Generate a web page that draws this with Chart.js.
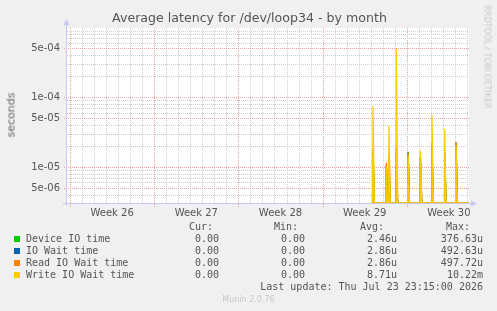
<!DOCTYPE html>
<html>
<head>
<meta charset="utf-8">
<script src="https://cdn.jsdelivr.net/npm/chart.js@4"></script>
<style>
  body { margin:0; background:#f0f0f0; }
  #wrap { position:relative; width:497px; height:311px; font-family:"DejaVu Sans", sans-serif; color:#555; }
  #chart { position:absolute; left:0; top:0; }
  .t { position:absolute; white-space:pre; }
  .mono { font-family:"DejaVu Sans Mono", monospace; font-size:10px; color:#555; }
  .sq { position:absolute; width:6px; height:6px; }
</style>
</head>
<body>
<div id="wrap">
  <canvas id="chart" width="497" height="311"></canvas>
  <div class="t" style="left:0;width:497px;top:10px;text-align:center;font-size:12.6px;padding-left:1px;">Average latency for /dev/loop34 - by month</div>
  <div class="t" style="left:11px;top:115px;font-size:11px;color:#666;transform:translate(-50%,-50%) rotate(-90deg);">seconds</div>
  <div class="t" style="left:487px;top:57px;font-size:8px;color:#c8c8c8;transform:translate(-50%,-50%) rotate(90deg);">RRDTOOL / TOBI OETIKER</div>
  <div id="legend"></div>
  <div class="t" style="left:0;width:497px;top:295px;text-align:center;font-size:8px;color:#c8c8c8;">Munin 2.0.76</div>
</div>
<script>
// x in days since Mon Jun 22 2026 (Week 26 start)
const weekLabels = ['Week 26','Week 27','Week 28','Week 29','Week 30'];
const yTickValues = [5e-4, 1e-4, 5e-5, 1e-5, 5e-6];
const yTickLabels = ['5e-04','1e-04','5e-05','1e-05','5e-06'];
const yMin = 3.05e-6, yMax = 9.8e-4;

const times = [25.10, 25.16, 25.19, 25.30,
               26.27, 26.30, 26.38, 26.49, 26.52, 26.62,
               27.10, 27.13, 27.24, 28.08, 28.11, 28.22,
               29.10, 29.13, 29.24, 30.06, 30.09, 30.20,
               31.12, 31.15, 31.26, 32.06, 32.09, 32.20, 33.17];
const deviceIO = [0,0,1.5e-5,0, 0,1.0e-5,0, 0,1.2e-5,0, 0,1.6e-5,0, 0,1.65e-5,0, 0,1.2e-5,0, 0,1.9e-5,0, 0,1.4e-5,0, 0,2.0e-5,0, 0];
const ioWait   = [0,0,1.8e-5,0, 0,1.1e-5,0, 0,1.45e-5,0, 0,1.9e-5,0, 0,1.6e-5,0, 0,1.38e-5,0, 0,2.2e-5,0, 0,1.6e-5,0, 0,2.25e-5,0, 0];
const readWait = [0,0,1.86e-5,0, 0,1.15e-5,0, 0,1.5e-5,0, 0,2.0e-5,0, 0,1.57e-5,0, 0,1.41e-5,0, 0,2.26e-5,0, 0,1.62e-5,0, 0,2.3e-5,0, 0];
const writeWait= [0,0,7.4e-5,0, 0,1.0e-5,0, 0,3.9e-5,0, 0,4.9e-4,0, 0,1.5e-5,0, 0,1.72e-5,0, 0,5.6e-5,0, 0,3.5e-5,0, 0,2.03e-5,0, 0];

const seriesNames = ['Device IO time','IO Wait time','Read IO Wait time','Write IO Wait time'];
const seriesColors = ['#00cc00','#0066b3','#ff8000','#ffcc00'];
const curVals = ['0.00','0.00','0.00','0.00'];
const minVals = ['0.00','0.00','0.00','0.00'];
const avgVals = ['2.46u','2.86u','2.86u','8.71u'];
const maxVals = ['376.63u','492.63u','497.72u','10.22m'];

// zero can't sit on a log axis: rrdtool draws it on the bottom edge, so clamp to the axis min
function pts(arr){ return times.map((t,i)=>({x:t, y:Math.max(arr[i], yMin)})); }

// legend table
const lg = document.getElementById('legend');
let html = '';
function cell(txt, right, top){ return '<div class="t mono" style="right:'+(497-right)+'px;top:'+top+'px;">'+txt+'</div>'; }
html += cell('Cur:',213,221) + cell('Min:',298,221) + cell('Avg:',384,221) + cell('Max:',470,221);
seriesNames.forEach((n,i)=>{
  const top = 233 + i*12;
  html += '<div class="sq" style="left:14px;top:'+(top+3)+'px;background:'+seriesColors[i]+'"></div>';
  html += '<div class="t mono" style="left:26px;top:'+top+'px;">'+n+'</div>';
  html += cell(curVals[i],219,top) + cell(minVals[i],305,top) + cell(avgVals[i],397,top) + cell(maxVals[i],483,top);
});
html += cell('Last update: Thu Jul 23 23:15:00 2026',483,281);
lg.innerHTML = html;

// dotted lines drawn pixel by pixel, like rrdtool does
function hdots(ctx, y, x0, x1){ for (let x=x0; x<=x1; x+=2) ctx.fillRect(x, y, 1, 1); }
function vdots(ctx, x, y0, y1){ for (let y=y0; y<=y1; y+=2) ctx.fillRect(x, y, 1, 1); }

const gridPlugin = {
  id:'rrdgrid',
  beforeDraw(chart){
    const {ctx, chartArea:a, scales:{x,y}} = chart;
    const L = Math.round(a.left), R = Math.round(a.right), T = Math.round(a.top), B = Math.round(a.bottom);
    ctx.save();
    ctx.fillStyle = '#fff';
    ctx.fillRect(L, T, R-L, B-T);
    const minorC = '#cdcdcd', majorC = '#f0a0a0';
    // vertical: days (minor), week starts (major)
    for (let dd=0; dd<=Math.floor(x.max); dd++){
      const px = Math.round(x.getPixelForValue(dd));
      const major = dd%7===0;
      ctx.fillStyle = major ? majorC : minorC;
      vdots(ctx, px, T, major ? B+3 : B-1);
    }
    // horizontal
    for (let d=-6; d<=-3; d++) for (let m=1; m<=9; m++){
      const v = m*Math.pow(10,d);
      if (v < y.min || v > y.max) continue;
      const major = yTickValues.some(t=>Math.abs(t-v)/v<1e-6);
      const py = Math.round(y.getPixelForValue(v));
      ctx.fillStyle = major ? majorC : minorC;
      hdots(ctx, py, major ? L-3 : L, R-1);
    }
    ctx.restore();
  },
  afterDatasetsDraw(chart){
    const {ctx, chartArea:a} = chart;
    ctx.save();
    ctx.strokeStyle = '#c8c8f8'; ctx.fillStyle = '#c8c8f8'; ctx.lineWidth = 1;
    ctx.beginPath(); ctx.moveTo(a.left-0.5, a.bottom+3); ctx.lineTo(a.left-0.5, a.top-4); ctx.stroke();
    ctx.beginPath(); ctx.moveTo(a.left-4, a.bottom+0.5); ctx.lineTo(a.right+3, a.bottom+0.5); ctx.stroke();
    ctx.beginPath(); ctx.moveTo(a.left-3.5, a.top-3); ctx.lineTo(a.left-0.5, a.top-9); ctx.lineTo(a.left+2.5, a.top-3); ctx.fill();
    ctx.beginPath(); ctx.moveTo(a.right+2, a.bottom-2.5); ctx.lineTo(a.right+8, a.bottom+0.5); ctx.lineTo(a.right+2, a.bottom+3.5); ctx.fill();
    ctx.restore();
  }
};

function ds(label, arr, color, order, fillAlpha){
  return {
    label, data: pts(arr), borderColor: color, borderWidth: 1.3,
    pointRadius: 0, tension: 0, order,
    fill: fillAlpha ? 'start' : false,
    backgroundColor: color + (fillAlpha || '')
  };
}

new Chart(document.getElementById('chart'), {
  type: 'line',
  data: {
    datasets: [
      ds(seriesNames[3], writeWait, seriesColors[3], 1, '66'),
      ds(seriesNames[2], readWait, seriesColors[2], 2, '55'),
      ds(seriesNames[1], ioWait, seriesColors[1], 3, ''),
      ds(seriesNames[0], deviceIO, seriesColors[0], 4, '')
    ]
  },
  options: {
    responsive: false,
    animation: false,
    layout: { padding: { left: 7, top: 28, right: 28, bottom: 88 } },
    plugins: { legend: { display: false }, tooltip: { enabled: false } },
    scales: {
      x: {
        type: 'linear', min: -0.25, max: 33.17,
        grid: { display: false, drawTicks: false }, border: { display: false },
        afterBuildTicks(s){ s.ticks = weekLabels.map((l,i)=>({value: 3.5 + 7*i})); },
        afterFit(s){ s.height = 20; },
        ticks: { padding: 4, maxRotation: 0, autoSkip: false, color: '#555',
          font: { family: 'DejaVu Sans', size: 10 },
          callback: (v,i)=>weekLabels[i] }
      },
      y: {
        type: 'logarithmic', min: yMin, max: yMax,
        grid: { display: false, drawTicks: false }, border: { display: false },
        afterBuildTicks(s){ s.ticks = yTickValues.map(v=>({value: v})); },
        afterFit(s){ s.width = 60; },
        ticks: { padding: 7, autoSkip: false, color: '#555',
          font: { family: 'DejaVu Sans', size: 10 },
          callback: (v,i)=>yTickLabels[i] }
      }
    }
  },
  plugins: [gridPlugin]
});
</script>
</body>
</html>
